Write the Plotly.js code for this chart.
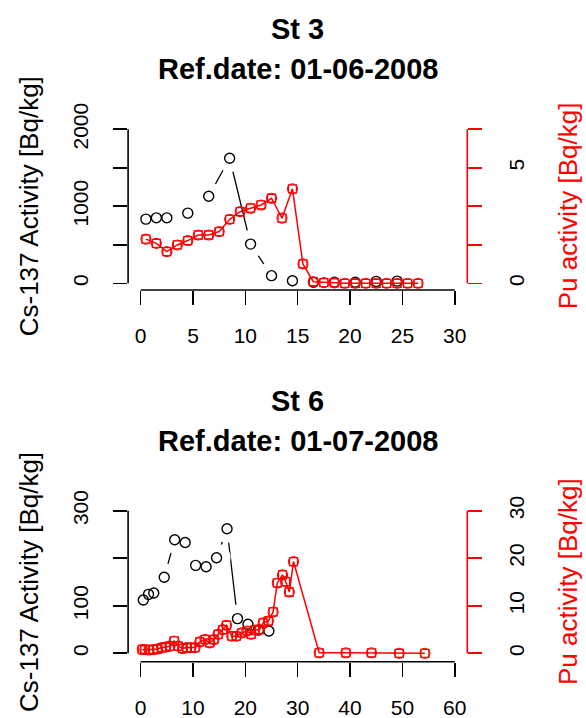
<!DOCTYPE html>
<html><head><meta charset="utf-8">
<script src="https://cdn.plot.ly/plotly-3.0.1.min.js"></script>
<style>html,body{margin:0;padding:0;background:#fff}#chart{width:586px;height:718px}</style>
</head><body><div id="chart"></div><script>
// ---------- data ----------
const st3_titles = ["St 3", "Ref.date: 01-06-2008"];
const st6_titles = ["St 6", "Ref.date: 01-07-2008"];
const ylabel_cs = "Cs-137 Activity [Bq/kg]";
const ylabel_pu = "Pu activity [Bq/kg]";

// Station 3
const st3_cs_depth = [0.5,1.5,2.5,4.5,6.5,8.5,10.5,12.5,14.5,16.5,18.5,20.5,22.5,24.5];
const st3_cs       = [833,850,850,911,1131,1624,509,99,34,13,13,13,25,28];
const st3_pu_depth = [0.5,1.5,2.5,3.5,4.5,5.5,6.5,7.5,8.5,9.5,10.5,11.5,12.5,13.5,14.5,15.5,16.5,17.5,18.5,19.5,20.5,21.5,22.5,23.5,24.5,25.5,26.5];
const st3_pu       = [1.91,1.73,1.37,1.66,1.85,2.09,2.09,2.24,2.77,3.10,3.25,3.39,3.68,2.82,4.09,0.84,0.07,0.03,0.02,0,0,0,0,0,0,0,0];

// Station 6
const st6_cs_depth = [0.5,1.5,2.5,4.5,6.5,8.5,10.5,12.5,14.5,16.5,18.5,20.5,22.5,24.5];
const st6_cs       = [112,124,127,160,239,233,185,182,201,262,73,61,49,47];
const st6_pu_depth = [0.3,0.8,1.6,2.4,3.2,4.0,4.8,5.6,6.4,7.2,8.0,8.8,9.6,10.4,11.3,12.3,13.2,14.0,14.8,15.7,16.4,17.4,18.3,19.3,20.3,21.1,21.8,22.7,23.4,24.4,25.3,26.1,27.1,27.7,28.4,29.2,34.1,39.2,44.1,49.4,54.3];
const st6_pu       = [0.8,0.8,0.7,0.8,0.9,1.2,1.3,1.5,2.6,1.5,1.0,1.2,1.2,1.2,2.4,2.9,2.2,2.9,4.0,5.0,5.9,3.6,3.6,4.3,4.7,4.0,4.9,5.0,6.4,6.8,8.7,14.8,16.5,15.1,12.9,19.3,0.1,0.1,0.1,0,0];

// ticks
const st3_x_ticks = [0,5,10,15,20,25,30];
const st3_cs_ticks = [0,500,1000,1500,2000];
const st3_cs_ticktext = ["0","","1000","","2000"];
const st3_pu_ticks = [0,1.667,3.333,5,6.667];
const st3_pu_ticktext = ["0","","","5",""];

const st6_x_ticks = [0,10,20,30,40,50,60];
const st6_cs_ticks = [0,100,200,300];
const st6_cs_ticktext = ["0","100","","300"];
const st6_pu_ticks = [0,10,20,30];
const st6_pu_ticktext = ["0","10","20","30"];

// ---------- style ----------
const FONT = "Liberation Sans, Arial, sans-serif";
const RED = "#ff0000";
const LW = 1.6;
const TICKFONT = {family: FONT, size: 21, color: "#000"};
const XDOM = [0.2186, 0.7974];
const TOPDOM = [0.5961, 0.8293];
const BOTDOM = [0.0784, 0.3004];

function blackTraces(x, y, xa, ya) {
  return [
    {x, y, xaxis: xa, yaxis: ya, type: "scatter", mode: "lines",
     line: {color: "#000", width: 1.3}, hoverinfo: "skip", showlegend: false},
    {x, y, xaxis: xa, yaxis: ya, type: "scatter", mode: "markers",
     marker: {symbol: "circle", size: 28, color: "#fff", line: {width: 0}}, hoverinfo: "skip", showlegend: false},
    {x, y, xaxis: xa, yaxis: ya, type: "scatter", mode: "markers",
     marker: {symbol: "circle-open", size: 10, color: "#000", line: {width: 1.4, color: "#000"}}, showlegend: false}
  ];
}
function redTraces(x, y, xa, ya) {
  return [
    {x, y, xaxis: xa, yaxis: ya, type: "scatter", mode: "lines+markers",
     line: {color: RED, width: 1.5},
     marker: {symbol: "square-open", size: 8, color: RED, line: {width: 1.3, color: RED}}, showlegend: false},
    {x, y, xaxis: xa, yaxis: ya, type: "scatter", mode: "markers",
     marker: {symbol: "circle-open", size: 10, color: RED, line: {width: 1.1, color: RED}}, showlegend: false}
  ];
}

const data = [].concat(
  blackTraces(st3_cs_depth, st3_cs, "x", "y"),
  redTraces(st3_pu_depth, st3_pu, "x", "y2"),
  blackTraces(st6_cs_depth, st6_cs, "x2", "y3"),
  redTraces(st6_pu_depth, st6_pu, "x2", "y4")
);

function xAxis(domain, range, ticks, anchor) {
  return {domain, range, anchor, tickmode: "array", tickvals: ticks, ticktext: ticks.map(String),
    ticks: "outside", ticklen: 14, tickwidth: LW, tickcolor: "#000", tickfont: TICKFONT,
    ticklabelstandoff: 13, showline: false, showgrid: false, zeroline: false, automargin: false, fixedrange: true};
}
function yAxis(domain, range, ticks, text, anchor, side, color, overlaying) {
  const a = {domain, range, anchor, side, tickmode: "array", tickvals: ticks, ticktext: text,
    ticks: "outside", ticklen: 14, tickwidth: LW, tickcolor: color, tickfont: TICKFONT, tickangle: -90,
    ticklabelstandoff: 17, showline: false, showgrid: false, zeroline: false, automargin: false, fixedrange: true};
  if (overlaying) a.overlaying = overlaying;
  return a;
}

function axisLine(xref, x0, x1, yref, y0, y1, color) {
  return {type: "line", xref, yref, x0, x1, y0, y1, layer: "above", line: {color, width: LW}};
}
const last = a => a[a.length - 1];
const shapes = [
  axisLine("x", st3_x_ticks[0], last(st3_x_ticks), "y domain", 0, 0, "#000"),
  axisLine("x domain", 0, 0, "y", st3_cs_ticks[0], last(st3_cs_ticks), "#000"),
  axisLine("x domain", 1, 1, "y2", st3_pu_ticks[0], last(st3_pu_ticks), RED),
  axisLine("x2", st6_x_ticks[0], last(st6_x_ticks), "y3 domain", 0, 0, "#000"),
  axisLine("x2 domain", 0, 0, "y3", st6_cs_ticks[0], last(st6_cs_ticks), "#000"),
  axisLine("x2 domain", 1, 1, "y4", st6_pu_ticks[0], last(st6_pu_ticks), RED)
];

function titleAnn(text, ypx, xref) {
  return {text: "<b>" + text + "</b>", xref: xref, x: 0.5, yref: "paper", y: (718 - ypx) / 718,
    xanchor: "center", yanchor: "middle", showarrow: false, font: {family: FONT, size: 29, color: "#000"}};
}
function yTitle(text, xpx, yref, color) {
  return {text, xref: "paper", x: xpx / 586, yref, y: 0.5, xanchor: "center", yanchor: "middle",
    textangle: -90, showarrow: false, font: {family: FONT, size: 26, color}};
}
const annotations = [
  titleAnn(st3_titles[0], 29, "x domain"),
  titleAnn(st3_titles[1], 69, "x domain"),
  titleAnn(st6_titles[0], 401, "x2 domain"),
  titleAnn(st6_titles[1], 441, "x2 domain"),
  yTitle(ylabel_cs, 29, "y domain", "#000"),
  yTitle(ylabel_pu, 568, "y domain", RED),
  yTitle(ylabel_cs, 29, "y3 domain", "#000"),
  yTitle(ylabel_pu, 568, "y3 domain", RED)
];

const layout = {
  width: 586, height: 718, autosize: false,
  margin: {l: 0, r: 0, t: 0, b: 0, pad: 0},
  paper_bgcolor: "#fff", plot_bgcolor: "#fff",
  font: {family: FONT, color: "#000"},
  showlegend: false,
  xaxis: xAxis(XDOM, [-1.2, 31.2], st3_x_ticks, "y"),
  yaxis: yAxis(TOPDOM, [-87, 2087], st3_cs_ticks, st3_cs_ticktext, "x", "left", "#000"),
  yaxis2: yAxis(TOPDOM, [-0.29, 6.957], st3_pu_ticks, st3_pu_ticktext, "x", "right", RED, "y"),
  xaxis2: xAxis(XDOM, [-2.4, 62.4], st6_x_ticks, "y3"),
  yaxis3: yAxis(BOTDOM, [-17.7, 317.7], st6_cs_ticks, st6_cs_ticktext, "x2", "left", "#000"),
  yaxis4: yAxis(BOTDOM, [-1.77, 31.77], st6_pu_ticks, st6_pu_ticktext, "x2", "right", RED, "y3"),
  shapes, annotations
};

Plotly.newPlot("chart", data, layout, {displayModeBar: false, staticPlot: true});
</script></body></html>
